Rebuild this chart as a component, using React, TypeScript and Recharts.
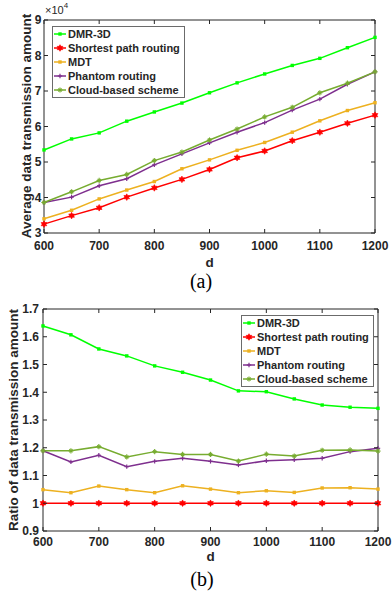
import { LineChart, Line, XAxis, YAxis, ReferenceArea, Legend } from "recharts";

// distance d
const dValues = [600, 650, 700, 750, 800, 850, 900, 950, 1000, 1050, 1100, 1150, 1200];
const dTicks = [600, 700, 800, 900, 1000, 1100, 1200];

// (a) average data transmission amount, in units of 10^4
const dmrAmount = [5.34, 5.65, 5.82, 6.15, 6.41, 6.66, 6.95, 7.23, 7.48, 7.72, 7.92, 8.22, 8.51];
const shortestAmount = [3.25, 3.49, 3.71, 4.01, 4.27, 4.51, 4.79, 5.12, 5.31, 5.6, 5.84, 6.09, 6.32];
const mdtAmount = [3.4, 3.64, 3.96, 4.21, 4.45, 4.81, 5.06, 5.33, 5.55, 5.84, 6.16, 6.45, 6.67];
const phantomAmount = [3.86, 4.01, 4.33, 4.53, 4.92, 5.23, 5.54, 5.84, 6.11, 6.46, 6.77, 7.19, 7.54];
const cloudAmount = [3.86, 4.16, 4.48, 4.65, 5.04, 5.28, 5.62, 5.93, 6.27, 6.54, 6.95, 7.22, 7.54];
const amountTicks = [3, 4, 5, 6, 7, 8, 9];

// (b) ratio of data transmission amount
const dmrRatio = [1.639, 1.607, 1.556, 1.531, 1.495, 1.472, 1.444, 1.405, 1.402, 1.376, 1.354, 1.346, 1.342];
const shortestRatio = [1, 1, 1, 1, 1, 1, 1, 1, 1, 1, 1, 1, 1];
const mdtRatio = [1.049, 1.038, 1.062, 1.049, 1.038, 1.063, 1.051, 1.038, 1.045, 1.039, 1.055, 1.056, 1.051];
const phantomRatio = [1.189, 1.149, 1.173, 1.132, 1.151, 1.162, 1.151, 1.138, 1.153, 1.157, 1.162, 1.186, 1.198];
const cloudRatio = [1.189, 1.189, 1.204, 1.167, 1.186, 1.176, 1.176, 1.152, 1.177, 1.17, 1.191, 1.192, 1.188];
const ratioTicks = [0.9, 1, 1.1, 1.2, 1.3, 1.4, 1.5, 1.6, 1.7];

const seriesNames = ["DMR-3D", "Shortest path routing", "MDT", "Phantom routing", "Cloud-based scheme"];

const SERIES = [
  { key: "dmr", color: "#00ff00", marker: "square" },
  { key: "shortest", color: "#ff0000", marker: "hexagram" },
  { key: "mdt", color: "#edb120", marker: "square" },
  { key: "phantom", color: "#7e2f8e", marker: "plus" },
  { key: "cloud", color: "#77ac30", marker: "asterisk" },
].map((s, i) => ({ ...s, name: seriesNames[i] }));

const buildRows = (cols: number[][]) =>
  dValues.map((d, i) => ({
    d,
    dmr: cols[0][i],
    shortest: cols[1][i],
    mdt: cols[2][i],
    phantom: cols[3][i],
    cloud: cols[4][i],
  }));

const amountData = buildRows([dmrAmount, shortestAmount, mdtAmount, phantomAmount, cloudAmount]);
const ratioData = buildRows([dmrRatio, shortestRatio, mdtRatio, phantomRatio, cloudRatio]);

const AXIS = "#262626";
const SANS = '"Liberation Sans", Arial, Helvetica, sans-serif';
const SERIF = '"Liberation Serif", "Times New Roman", serif';

const Marker = ({ type, cx, cy, color }: { type: string; cx: number; cy: number; color: string }) => {
  if (type === "square") {
    return <rect x={cx - 1.7} y={cy - 1.7} width={3.4} height={3.4} fill={color} />;
  }
  if (type === "hexagram") {
    const r = 3.3;
    const pts: string[] = [];
    for (let k = 0; k < 12; k++) {
      const rr = k % 2 === 0 ? r : r / Math.sqrt(3);
      const a = ((-90 + k * 30) * Math.PI) / 180;
      pts.push(`${cx + rr * Math.cos(a)},${cy + rr * Math.sin(a)}`);
    }
    return <polygon points={pts.join(" ")} fill={color} stroke={color} strokeWidth={0.6} />;
  }
  if (type === "plus") {
    return (
      <g stroke={color} strokeWidth={1.2}>
        <line x1={cx - 2.2} x2={cx + 2.2} y1={cy} y2={cy} />
        <line x1={cx} x2={cx} y1={cy - 2.2} y2={cy + 2.2} />
      </g>
    );
  }
  return (
    <g stroke={color} strokeWidth={1.1}>
      <line x1={cx - 2.6} x2={cx + 2.6} y1={cy} y2={cy} />
      <line x1={cx} x2={cx} y1={cy - 2.6} y2={cy + 2.6} />
      <line x1={cx - 1.6} x2={cx + 1.6} y1={cy - 1.6} y2={cy + 1.6} />
      <line x1={cx - 1.6} x2={cx + 1.6} y1={cy + 1.6} y2={cy - 1.6} />
    </g>
  );
};

const LegendBox = () => (
  <div
    style={{
      background: "#fff",
      border: "1px solid #6b6b6b",
      padding: "0 4px 0 0",
      fontFamily: SANS,
      fontWeight: 700,
      fontSize: 11,
      color: AXIS,
      lineHeight: "14px",
    }}
  >
    {SERIES.map((s) => (
      <div key={s.key} style={{ display: "flex", alignItems: "center", height: 14, whiteSpace: "nowrap" }}>
        <svg width={14} height={14} style={{ display: "block" }}>
          <line x1={1} x2={13} y1={7} y2={7} stroke={s.color} strokeWidth={1.5} />
          <Marker type={s.marker} cx={7} cy={7} color={s.color} />
        </svg>
        <span style={{ marginLeft: 1 }}>{s.name}</span>
      </div>
    ))}
  </div>
);

interface Geom {
  height: number;
  top: number;
  bottom: number;
  left: number;
  right: number;
  xTickDy: number;
  yTickDx: number;
}

interface PanelProps {
  data: any[];
  geom: Geom;
  yDomain: [number, number];
  yTicks: number[];
  fmtY: (v: number) => string;
  legendPos: { left: number; top: number };
}

const Panel = ({ data, geom, yDomain, yTicks, fmtY, legendPos }: PanelProps) => {
  const W = 392;
  const XTick = (p: any) => (
    <g>
      <line x1={p.x} x2={p.x} y1={geom.bottom} y2={geom.bottom - 4} stroke={AXIS} />
      <line x1={p.x} x2={p.x} y1={geom.top} y2={geom.top + 4} stroke={AXIS} />
      <text x={p.x} y={geom.bottom + geom.xTickDy} textAnchor="middle" fill={AXIS} fontFamily={SANS} fontWeight={700} fontSize={12}>
        {p.payload.value}
      </text>
    </g>
  );
  const YTick = (p: any) => (
    <g>
      <line x1={geom.left} x2={geom.left + 4} y1={p.y} y2={p.y} stroke={AXIS} />
      <line x1={geom.right} x2={geom.right - 4} y1={p.y} y2={p.y} stroke={AXIS} />
      <text x={geom.left - geom.yTickDx} y={p.y + 4.3} textAnchor="end" fill={AXIS} fontFamily={SANS} fontWeight={700} fontSize={12}>
        {fmtY(p.payload.value)}
      </text>
    </g>
  );
  return (
    <LineChart
      width={W}
      height={geom.height}
      data={data}
      margin={{ top: geom.top, right: W - geom.right, left: geom.left - 40, bottom: geom.height - geom.bottom - 30 }}
    >
      <XAxis
        dataKey="d"
        type="number"
        domain={[600, 1200]}
        ticks={dTicks}
        height={30}
        axisLine={false}
        tickLine={false}
        tickSize={0}
        tick={XTick}
        interval={0}
      />
      <YAxis
        type="number"
        domain={yDomain}
        ticks={yTicks}
        width={40}
        axisLine={false}
        tickLine={false}
        tickSize={0}
        tick={YTick}
        interval={0}
      />
      <ReferenceArea x1={600} x2={1200} y1={yDomain[0]} y2={yDomain[1]} fill="none" stroke={AXIS} strokeWidth={1} />
      {SERIES.map((s) => (
        <Line
          key={s.key}
          dataKey={s.key}
          name={s.name}
          stroke={s.color}
          strokeWidth={1.5}
          isAnimationActive={false}
          dot={(p: any) => <Marker key={`${s.key}-${p.index}`} type={s.marker} cx={p.cx} cy={p.cy} color={s.color} />}
          activeDot={false}
        />
      ))}
      <Legend
        layout="horizontal"
        verticalAlign="middle"
        align="center"
        content={() => <LegendBox />}
        wrapperStyle={{ left: legendPos.left, top: legendPos.top, width: "auto", height: "auto" }}
      />
    </LineChart>
  );
};

const abs = (extra: React.CSSProperties): React.CSSProperties => ({
  position: "absolute",
  transform: "translate(-50%, -50%)",
  whiteSpace: "nowrap",
  lineHeight: 1,
  color: AXIS,
  ...extra,
});

export default function App() {
  return (
    <div style={{ position: "relative", width: 392, height: 593, background: "#fff", fontFamily: SANS }}>
      <style>{"body{margin:0}"}</style>
      <div style={{ position: "absolute", left: 0, top: 0 }}>
        <Panel
          data={amountData}
          geom={{ height: 290, top: 20, bottom: 233, left: 44, right: 375, xTickDy: 17, yTickDx: 2.5 }}
          yDomain={[3, 9]}
          yTicks={amountTicks}
          fmtY={(v) => String(v)}
          legendPos={{ left: 52, top: 26 }}
        />
      </div>
      <div style={{ position: "absolute", left: 0, top: 295 }}>
        <Panel
          data={ratioData}
          geom={{ height: 298, top: 14, bottom: 236, left: 43, right: 378, xTickDy: 15, yTickDx: 4 }}
          yDomain={[0.9, 1.7]}
          yTicks={ratioTicks}
          fmtY={(v) => String(Number(v.toFixed(1)))}
          legendPos={{ left: 241, top: 20 }}
        />
      </div>

      {/* axis titles and captions */}
      <div style={{ position: "absolute", left: 45, top: 5, fontSize: 11, lineHeight: 1, color: AXIS, whiteSpace: "nowrap" }}>
        ×10<sup style={{ fontSize: 8, verticalAlign: "top", position: "relative", top: -3 }}>4</sup>
      </div>
      <div style={abs({ left: 27, top: 126, fontSize: 13.5, fontWeight: 700, transform: "translate(-50%, -50%) rotate(-90deg)" })}>
        Average data transmission amount
      </div>
      <div style={abs({ left: 209.5, top: 263, fontSize: 13.5, fontWeight: 700 })}>d</div>
      <div style={abs({ left: 201, top: 281, fontSize: 20, fontFamily: SERIF, color: "#000" })}>(a)</div>

      <div style={abs({ left: 14, top: 420, fontSize: 13.5, fontWeight: 700, transform: "translate(-50%, -50%) rotate(-90deg)" })}>
        Ratio of data transmission amount
      </div>
      <div style={abs({ left: 210.5, top: 557, fontSize: 13.5, fontWeight: 700 })}>d</div>
      <div style={abs({ left: 202, top: 579, fontSize: 20, fontFamily: SERIF, color: "#000" })}>(b)</div>
    </div>
  );
}
